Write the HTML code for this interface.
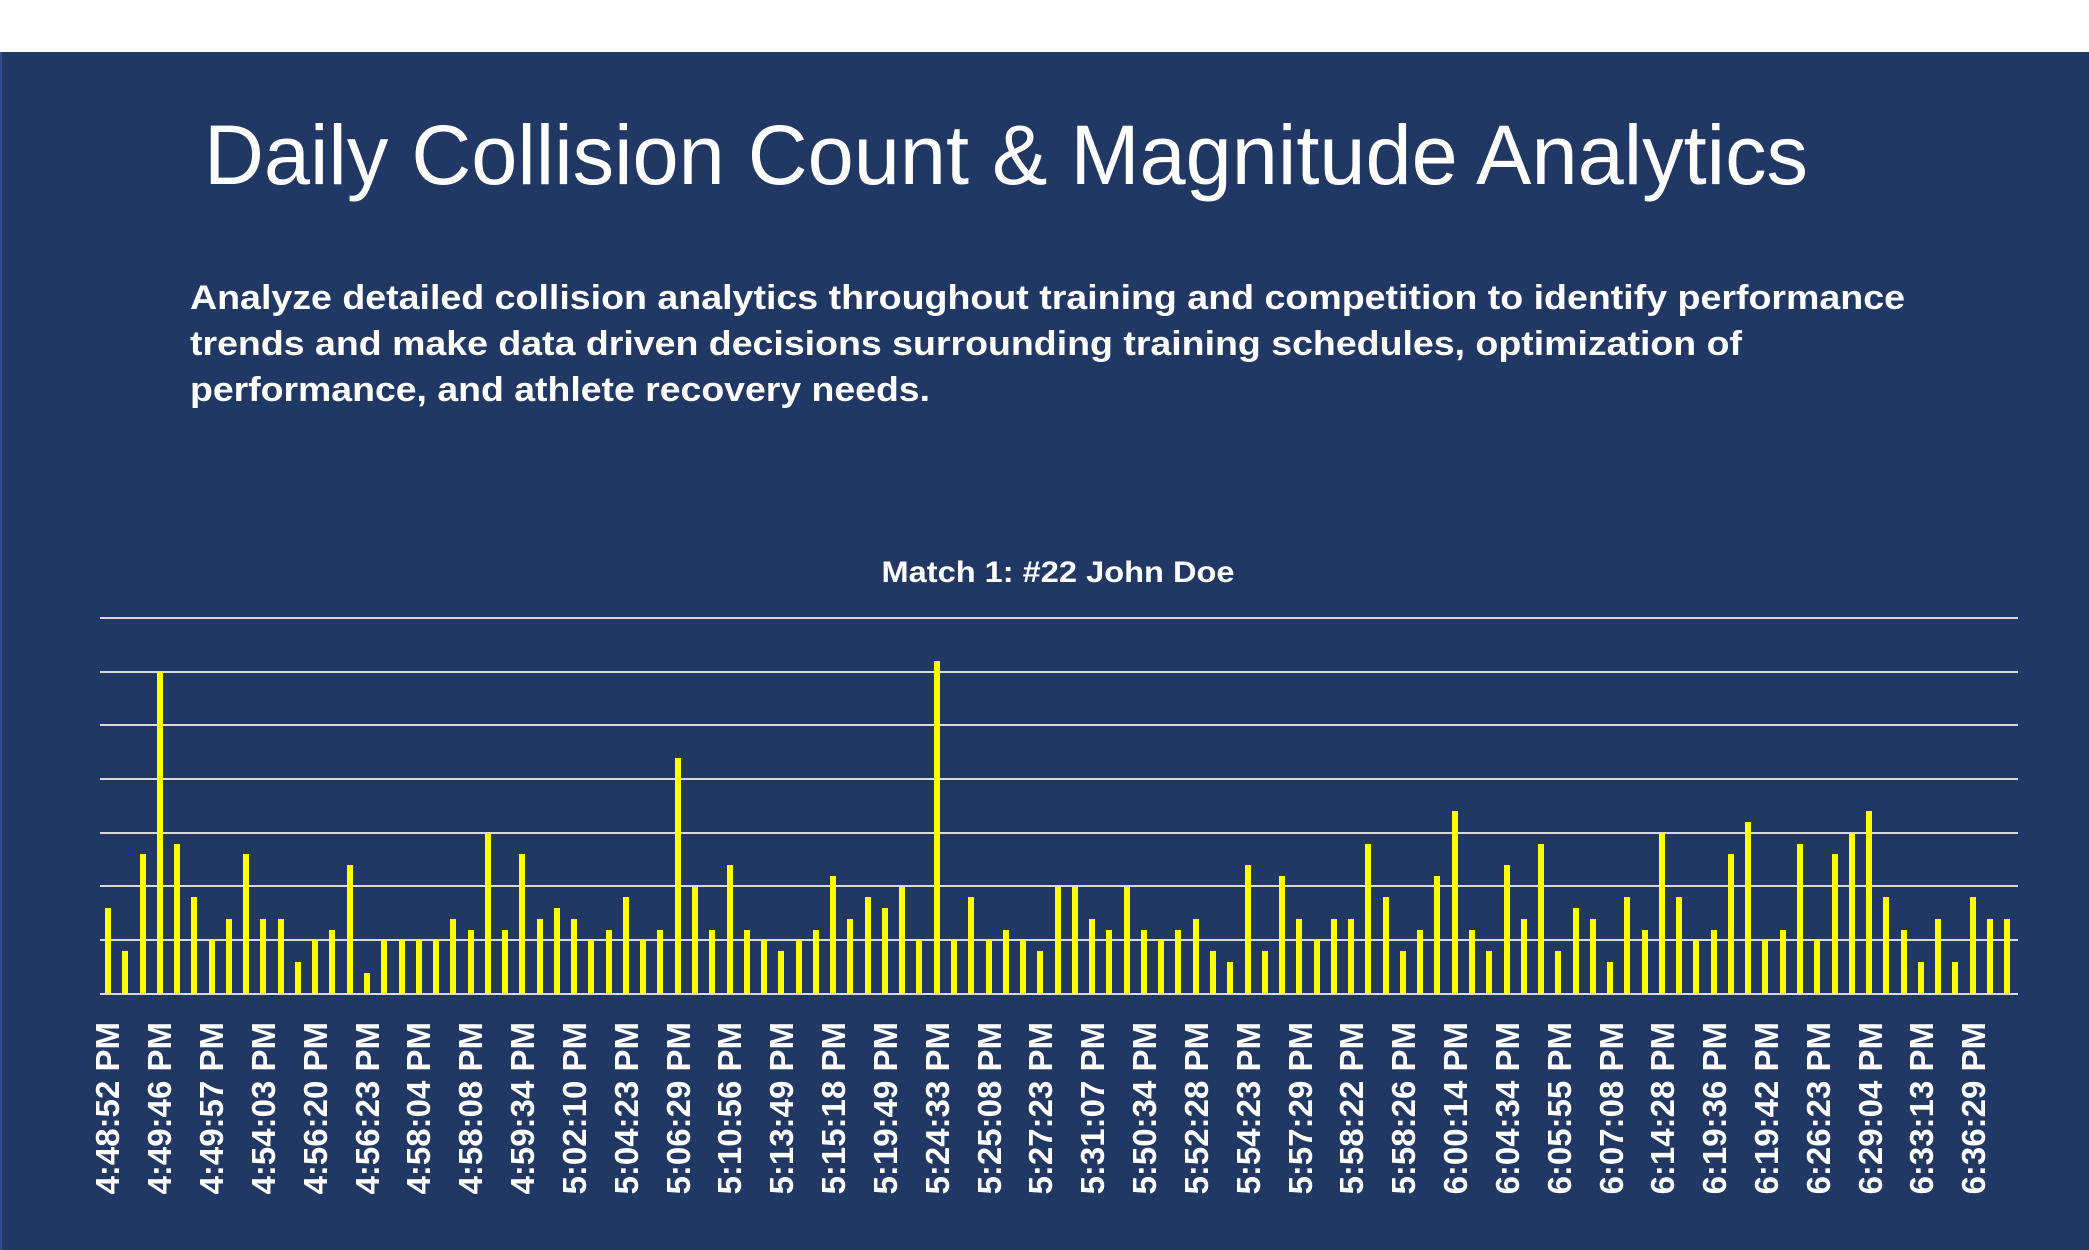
<!DOCTYPE html>
<html><head><meta charset="utf-8"><style>
html,body{margin:0;padding:0;width:2089px;height:1250px;overflow:hidden;background:#fff;font-family:"Liberation Sans",sans-serif}
#panel{position:absolute;left:0;top:52px;width:2089px;height:1198px;background:#213864;border-left:2px solid #2c4f8f;box-sizing:border-box}
svg{position:absolute;left:0;top:0}
#bars{position:absolute;left:99.36px;top:618px;width:1918.08px;height:376px;display:flex;align-items:flex-end}
#bars div{flex:0 0 17.28px;display:flex;justify-content:center;align-items:flex-end;height:100%}
#bars i{display:block;width:6px;background:#ffff00;height:calc(var(--h)*53.71px)}
#labels{position:absolute;left:82.08px;top:1022px;display:flex}
#labels div{flex:0 0 51.84px;display:flex;justify-content:center}
#labels span{writing-mode:vertical-rl;transform:rotate(180deg);color:#fff;font-weight:bold;font-size:33px;line-height:33px;white-space:nowrap}
</style></head><body>
<div id="panel"></div>
<svg width="2089" height="1250">
<text x="204" y="184" fill="#fff" font-size="84" textLength="1604" lengthAdjust="spacingAndGlyphs" font-family="Liberation Sans, sans-serif">Daily Collision Count &amp; Magnitude Analytics</text>
<g fill="#fff" font-weight="bold" font-size="34" font-family="Liberation Sans, sans-serif">
<text x="190" y="309" textLength="1715" lengthAdjust="spacingAndGlyphs">Analyze detailed collision analytics throughout training and competition to identify performance</text>
<text x="190" y="355" textLength="1552" lengthAdjust="spacingAndGlyphs">trends and make data driven decisions surrounding training schedules, optimization of</text>
<text x="190" y="401" textLength="740" lengthAdjust="spacingAndGlyphs">performance, and athlete recovery needs.</text>
</g>
<text x="1058" y="582" fill="#fff" font-weight="bold" font-size="30" text-anchor="middle" textLength="353" lengthAdjust="spacingAndGlyphs" font-family="Liberation Sans, sans-serif">Match 1: #22 John Doe</text>
<g stroke="#d9d9d9" stroke-width="2">
<line x1="100" x2="2018" y1="618" y2="618"/><line x1="100" x2="2018" y1="672" y2="672"/><line x1="100" x2="2018" y1="725" y2="725"/><line x1="100" x2="2018" y1="779" y2="779"/><line x1="100" x2="2018" y1="833" y2="833"/><line x1="100" x2="2018" y1="886" y2="886"/><line x1="100" x2="2018" y1="940" y2="940"/><line x1="100" x2="2018" y1="994" y2="994"/>
</g>
</svg>
<div id="bars">
<div><i style="--h:1.6"></i></div><div><i style="--h:0.8"></i></div><div><i style="--h:2.6"></i></div><div><i style="--h:6"></i></div><div><i style="--h:2.8"></i></div><div><i style="--h:1.8"></i></div><div><i style="--h:1"></i></div><div><i style="--h:1.4"></i></div><div><i style="--h:2.6"></i></div><div><i style="--h:1.4"></i></div>
<div><i style="--h:1.4"></i></div><div><i style="--h:0.6"></i></div><div><i style="--h:1"></i></div><div><i style="--h:1.2"></i></div><div><i style="--h:2.4"></i></div><div><i style="--h:0.4"></i></div><div><i style="--h:1"></i></div><div><i style="--h:1"></i></div><div><i style="--h:1"></i></div><div><i style="--h:1"></i></div>
<div><i style="--h:1.4"></i></div><div><i style="--h:1.2"></i></div><div><i style="--h:3"></i></div><div><i style="--h:1.2"></i></div><div><i style="--h:2.6"></i></div><div><i style="--h:1.4"></i></div><div><i style="--h:1.6"></i></div><div><i style="--h:1.4"></i></div><div><i style="--h:1"></i></div><div><i style="--h:1.2"></i></div>
<div><i style="--h:1.8"></i></div><div><i style="--h:1"></i></div><div><i style="--h:1.2"></i></div><div><i style="--h:4.4"></i></div><div><i style="--h:2"></i></div><div><i style="--h:1.2"></i></div><div><i style="--h:2.4"></i></div><div><i style="--h:1.2"></i></div><div><i style="--h:1"></i></div><div><i style="--h:0.8"></i></div>
<div><i style="--h:1"></i></div><div><i style="--h:1.2"></i></div><div><i style="--h:2.2"></i></div><div><i style="--h:1.4"></i></div><div><i style="--h:1.8"></i></div><div><i style="--h:1.6"></i></div><div><i style="--h:2"></i></div><div><i style="--h:1"></i></div><div><i style="--h:6.2"></i></div><div><i style="--h:1"></i></div>
<div><i style="--h:1.8"></i></div><div><i style="--h:1"></i></div><div><i style="--h:1.2"></i></div><div><i style="--h:1"></i></div><div><i style="--h:0.8"></i></div><div><i style="--h:2"></i></div><div><i style="--h:2"></i></div><div><i style="--h:1.4"></i></div><div><i style="--h:1.2"></i></div><div><i style="--h:2"></i></div>
<div><i style="--h:1.2"></i></div><div><i style="--h:1"></i></div><div><i style="--h:1.2"></i></div><div><i style="--h:1.4"></i></div><div><i style="--h:0.8"></i></div><div><i style="--h:0.6"></i></div><div><i style="--h:2.4"></i></div><div><i style="--h:0.8"></i></div><div><i style="--h:2.2"></i></div><div><i style="--h:1.4"></i></div>
<div><i style="--h:1"></i></div><div><i style="--h:1.4"></i></div><div><i style="--h:1.4"></i></div><div><i style="--h:2.8"></i></div><div><i style="--h:1.8"></i></div><div><i style="--h:0.8"></i></div><div><i style="--h:1.2"></i></div><div><i style="--h:2.2"></i></div><div><i style="--h:3.4"></i></div><div><i style="--h:1.2"></i></div>
<div><i style="--h:0.8"></i></div><div><i style="--h:2.4"></i></div><div><i style="--h:1.4"></i></div><div><i style="--h:2.8"></i></div><div><i style="--h:0.8"></i></div><div><i style="--h:1.6"></i></div><div><i style="--h:1.4"></i></div><div><i style="--h:0.6"></i></div><div><i style="--h:1.8"></i></div><div><i style="--h:1.2"></i></div>
<div><i style="--h:3"></i></div><div><i style="--h:1.8"></i></div><div><i style="--h:1"></i></div><div><i style="--h:1.2"></i></div><div><i style="--h:2.6"></i></div><div><i style="--h:3.2"></i></div><div><i style="--h:1"></i></div><div><i style="--h:1.2"></i></div><div><i style="--h:2.8"></i></div><div><i style="--h:1"></i></div>
<div><i style="--h:2.6"></i></div><div><i style="--h:3"></i></div><div><i style="--h:3.4"></i></div><div><i style="--h:1.8"></i></div><div><i style="--h:1.2"></i></div><div><i style="--h:0.6"></i></div><div><i style="--h:1.4"></i></div><div><i style="--h:0.6"></i></div><div><i style="--h:1.8"></i></div><div><i style="--h:1.4"></i></div>
<div><i style="--h:1.4"></i></div>
</div>
<div id="labels">
<div><span>4:48:52 PM</span></div><div><span>4:49:46 PM</span></div><div><span>4:49:57 PM</span></div><div><span>4:54:03 PM</span></div><div><span>4:56:20 PM</span></div><div><span>4:56:23 PM</span></div><div><span>4:58:04 PM</span></div><div><span>4:58:08 PM</span></div><div><span>4:59:34 PM</span></div><div><span>5:02:10 PM</span></div>
<div><span>5:04:23 PM</span></div><div><span>5:06:29 PM</span></div><div><span>5:10:56 PM</span></div><div><span>5:13:49 PM</span></div><div><span>5:15:18 PM</span></div><div><span>5:19:49 PM</span></div><div><span>5:24:33 PM</span></div><div><span>5:25:08 PM</span></div><div><span>5:27:23 PM</span></div><div><span>5:31:07 PM</span></div>
<div><span>5:50:34 PM</span></div><div><span>5:52:28 PM</span></div><div><span>5:54:23 PM</span></div><div><span>5:57:29 PM</span></div><div><span>5:58:22 PM</span></div><div><span>5:58:26 PM</span></div><div><span>6:00:14 PM</span></div><div><span>6:04:34 PM</span></div><div><span>6:05:55 PM</span></div><div><span>6:07:08 PM</span></div>
<div><span>6:14:28 PM</span></div><div><span>6:19:36 PM</span></div><div><span>6:19:42 PM</span></div><div><span>6:26:23 PM</span></div><div><span>6:29:04 PM</span></div><div><span>6:33:13 PM</span></div><div><span>6:36:29 PM</span></div>
</div>
</body></html>
